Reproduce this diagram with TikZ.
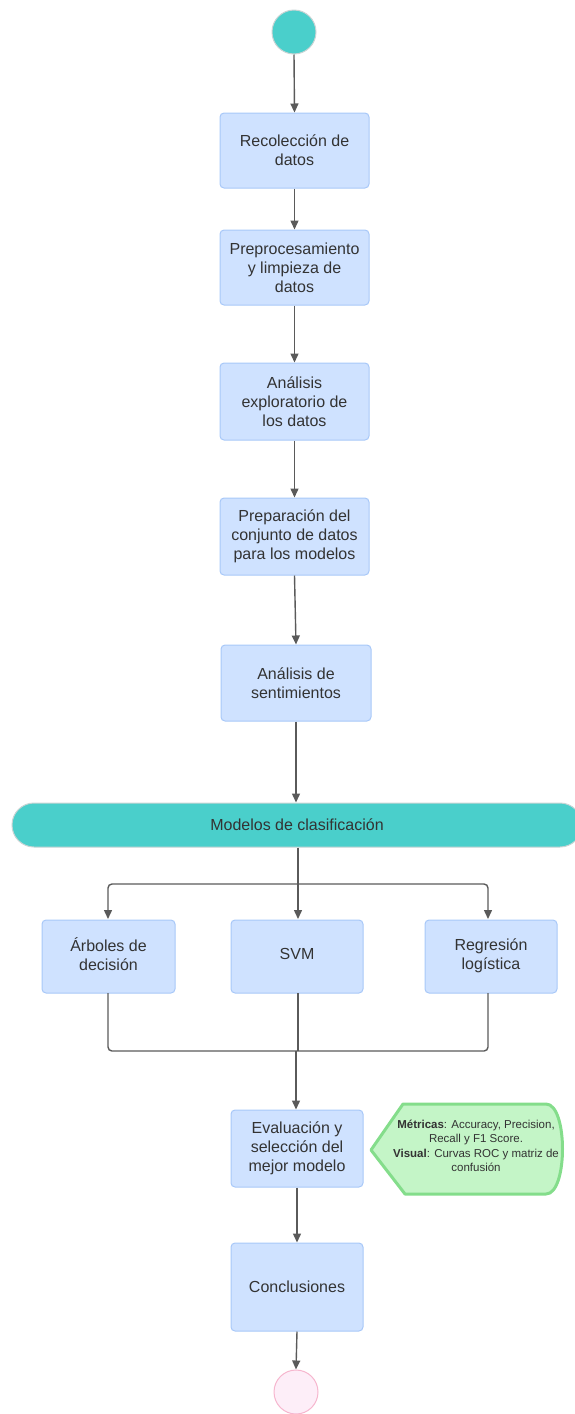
\documentclass[tikz,border=0pt]{standalone}
\usepackage{fontspec}
\setmainfont{Liberation Sans}
\usetikzlibrary{arrows.meta}
\definecolor{txt}{HTML}{333333}
\definecolor{boxfill}{HTML}{CFE2FF}
\definecolor{boxline}{HTML}{A8C8F8}
\definecolor{teal}{HTML}{4ACFCB}
\definecolor{tealline}{HTML}{C8D4D4}
\definecolor{pinkfill}{HTML}{FDEEF8}
\definecolor{pinkline}{HTML}{F6B6CE}
\definecolor{notefill}{HTML}{C4F5C7}
\definecolor{noteline}{HTML}{84DD8B}
\definecolor{wire}{HTML}{5A5A5A}
\begin{document}
\begin{tikzpicture}[x=1pt,y=-1pt,
  stepbox/.style={draw=boxline,fill=boxfill,line width=1pt,rounded corners=4pt,
    align=center,text=txt,inner sep=0pt,font=\fontsize{16}{19}\selectfont},
  arr/.style={draw=wire,line width=1.4pt,-{Triangle[length=9pt,width=8pt]}},
  wireline/.style={draw=wire,line width=1.4pt,rounded corners=4pt}]
\useasboundingbox (0,0) rectangle (574,1414);

% start and end markers
\node[circle,draw=tealline,fill=teal,line width=1pt,minimum size=44pt,inner sep=0pt] (start) at (294,32) {};
\node[circle,draw=pinkline,fill=pinkfill,line width=1pt,minimum size=44pt,inner sep=0pt] (stop) at (296,1392) {};

% main sequence of steps
\node[stepbox,minimum width=149pt,minimum height=75pt] (b1) at (294.5,150.5) {Recolección de\\datos};
\node[stepbox,minimum width=149pt,minimum height=75pt] (b2) at (294.5,267.5) {Preprocesamiento\\y limpieza de\\datos};
\node[stepbox,minimum width=149pt,minimum height=77pt] (b3) at (294.5,401.5) {Análisis\\exploratorio de\\los datos};
\node[stepbox,minimum width=149pt,minimum height=77pt] (b4) at (294.5,536.5) {Preparación del\\conjunto de datos\\para los modelos};
\node[stepbox,minimum width=150pt,minimum height=76pt] (b5) at (296,683) {Análisis de\\sentimientos};

% classification banner
\node[draw=tealline,fill=teal,line width=1pt,rounded corners=22pt,minimum width=570pt,minimum height=44pt,
  text=txt,font=\fontsize{16}{19}\selectfont] (models) at (297,825) {Modelos de clasificación};

% the three models
\node[stepbox,minimum width=133pt,minimum height=73pt] (tree) at (108.5,956.5) {Árboles de\\decisión\\[-14pt]\phantom{x}};
\node[stepbox,minimum width=132pt,minimum height=73pt] (svm) at (297,956.5) {SVM\\[-14pt]\phantom{x}};
\node[stepbox,minimum width=132pt,minimum height=73pt] (logit) at (491,956.5) {Regresión\\logística\\[-14pt]\phantom{x}};

% evaluation and conclusions
\node[stepbox,minimum width=132pt,minimum height=77pt] (eval) at (297,1148.5) {Evaluación y\\selección del\\mejor modelo};
\node[stepbox,minimum width=132pt,minimum height=88pt] (concl) at (297,1287) {Conclusiones};

% metrics note
\draw[draw=noteline,fill=notefill,line width=3pt,line join=round]
  (371,1150) -- (403,1104) -- (546,1104) .. controls (568,1104) and (568,1194) .. (546,1194)
  -- (405,1194) -- cycle;
\node[align=center,text=txt,inner sep=0pt,font=\fontsize{11.5}{14.5}\selectfont] (note) at (476,1146)
  {\textbf{Métricas}: Accuracy, Precision,\\Recall y F1 Score.\\\textbf{Visual}: Curvas ROC y matriz de\\confusión};

% connectors
\draw[arr] (start.south) -- (b1.north);
\draw[arr] (b1.south) -- (b2.north);
\draw[arr] (b2.south) -- (b3.north);
\draw[arr] (b3.south) -- (b4.north);
\draw[arr] (b4.south) -- (b5.north);
\draw[arr] (b5.south) -- (models.north -| b5.south);

\coordinate (split) at (298,884);
\draw[wireline] (models.south -| split) -- (split);
\draw[arr,rounded corners=4pt] (split) -- (108,884) -- (108,919);
\draw[arr] (split) -- (298,919);
\draw[arr,rounded corners=4pt] (split) -- (488,884) -- (488,919);

\coordinate (merge) at (296,1051);
\draw[wireline] (108,993) -- (108,1051) -- (merge);
\draw[wireline] (488,993) -- (488,1051) -- (merge);
\draw[wireline] (298,993) -- (298,1051);
\draw[arr] (merge) -- (eval.north -| merge);

\draw[arr] (eval.south) -- (concl.north);
\draw[arr] (concl.south) -- (stop.north);
\end{tikzpicture}
\end{document}
